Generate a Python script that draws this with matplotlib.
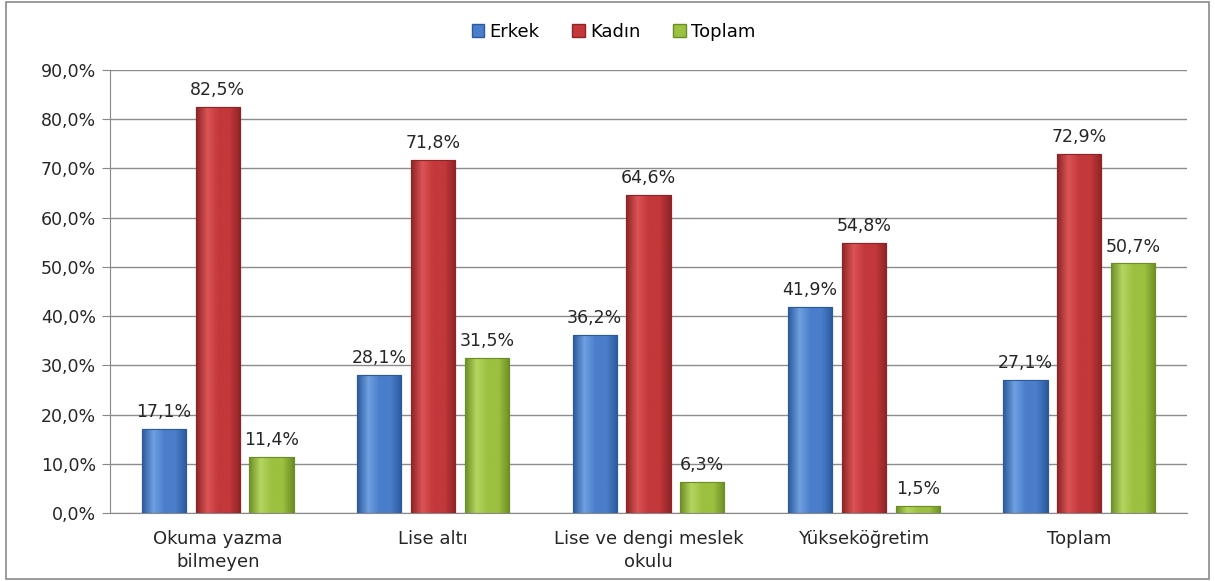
import numpy as np
import matplotlib
matplotlib.use("Agg")
import matplotlib.pyplot as plt
from matplotlib.colors import LinearSegmentedColormap
from matplotlib.patches import Rectangle

categories = ["Okuma yazma\nbilmeyen", "Lise altı", "Lise ve dengi meslek\nokulu", "Yükseköğretim", "Toplam"]
series_names = ["Erkek", "Kadın", "Toplam"]
erkek = [17.1, 28.1, 36.2, 41.9, 27.1]
kadin = [82.5, 71.8, 64.6, 54.8, 72.9]
toplam = [11.4, 31.5, 6.3, 1.5, 50.7]
yticks = [0, 10, 20, 30, 40, 50, 60, 70, 80, 90]

base_colors = ["#4a7ecb", "#c3383a", "#9cc040"]
dark_colors = ["#2c5a9c", "#8e2426", "#6d8e26"]
light_colors = ["#6fa0e2", "#dc5456", "#b5d560"]

plt.rcParams['font.family'] = ['DejaVu Sans']
FS = 12.5

fig = plt.figure(figsize=(12.15, 5.81), dpi=100)
ax = fig.add_axes([0.0905, 0.117, 0.8865, 0.7625])

x = np.arange(len(categories))
w = 0.205
off = 0.25
data = [erkek, kadin, toplam]
for i, (vals, name) in enumerate(zip(data, series_names)):
    bars = ax.bar(x + (i - 1) * off, vals, w, color=base_colors[i], edgecolor=dark_colors[i],
                  linewidth=0.8, label=name, zorder=3)
    cmap = LinearSegmentedColormap.from_list("g", [dark_colors[i], light_colors[i], base_colors[i], base_colors[i], dark_colors[i]])
    grad = np.linspace(0, 1, 64).reshape(1, -1)
    for b, v in zip(bars, vals):
        x0, y0 = b.get_x(), b.get_y()
        bw, bh = b.get_width(), b.get_height()
        im = ax.imshow(grad, extent=(x0, x0 + bw, y0, y0 + bh), aspect='auto', cmap=cmap, zorder=3.5)
        im.set_clip_path(b)
        ax.add_patch(Rectangle((x0, y0), bw, bh, fill=False, edgecolor=dark_colors[i], linewidth=0.8, zorder=4))
        ax.text(b.get_x() + bw / 2, v + 1.6, f"{v:.1f}%".replace('.', ','), ha='center', va='bottom',
                fontsize=FS, color='#262626', zorder=5)

ax.set_xlim(-0.5, len(categories) - 0.5)
ax.set_ylim(0, 90)
ax.set_yticks(yticks)
ax.set_yticklabels([f"{t:.1f}%".replace('.', ',') for t in yticks], fontsize=FS, color='#262626')
ax.set_xticks(x)
ax.set_xticklabels(categories, fontsize=FS + 0.5, color='#262626', linespacing=1.4)
ax.tick_params(axis='x', length=0, pad=12)
ax.tick_params(axis='y', length=6, color='#888888', pad=4)
ax.yaxis.grid(True, color='#8c8c8c', linewidth=1.0, zorder=0)
ax.set_axisbelow(True)
for s in ['top', 'right']:
    ax.spines[s].set_visible(False)
ax.spines['left'].set_color('#888888')
ax.spines['bottom'].set_color('#888888')

handles = [Rectangle((0, 0), 1, 1, facecolor=base_colors[i], edgecolor=dark_colors[i]) for i in range(3)]
fig.legend(handles, series_names, loc='center', bbox_to_anchor=(0.505, 0.945), ncol=3, frameon=False,
           fontsize=FS + 0.5, handlelength=0.7, handleheight=0.7, handletextpad=0.3, columnspacing=1.8)

fig.add_artist(Rectangle((0.005, 0.004), 0.99, 0.992, transform=fig.transFigure, fill=False,
                         edgecolor='#8a8a8a', linewidth=1.2))

fig.savefig("out.png", dpi=100)
